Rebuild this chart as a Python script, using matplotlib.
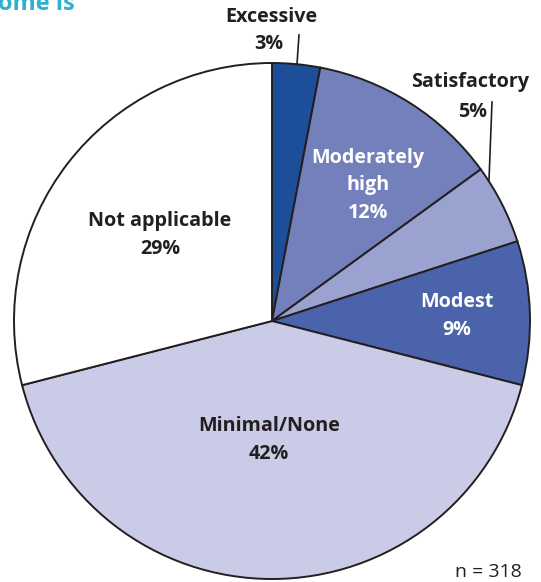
import matplotlib
matplotlib.use("Agg")
import matplotlib.pyplot as plt

# Share of responses by category, clockwise from 12 o'clock
categories = ["Excessive", "Moderately high", "Satisfactory", "Modest", "Minimal/None", "Not applicable"]
shares = [3, 12, 5, 9, 42, 29]
colors = ["#1d4e9a", "#7480bb", "#9aa2cf", "#4a63ab", "#cacbe6", "#ffffff"]
n_total = 318

W, H = 541, 582
fig = plt.figure(figsize=(W / 100, H / 100), dpi=100)
ax = fig.add_axes([0, 0, 1, 1])

cx, cy, r = 272, H - 321, 258
ax.pie(shares, colors=colors, startangle=90, counterclock=False,
       center=(cx, cy), radius=r, frame=True,
       wedgeprops=dict(edgecolor="#231f20", linewidth=1.4))
ax.set_xlim(0, W)
ax.set_ylim(0, H)
ax.set_aspect("equal")
ax.axis("off")

font = ["Open Sans", "DejaVu Sans"]
dark = "#231f20"
fs = 14.2
ls = 1.5

def y(p):
    return H - p

# Title fragment at top left
ax.text(-2, y(4), "ome is", color="#2eb0cf", fontsize=17, fontweight="bold",
        family=font, ha="left", va="center")

# Labels outside the pie with leader lines
ax.text(271, y(17), "Excessive", color=dark, fontsize=fs, fontweight="bold",
        family=font, ha="center", va="center")
ax.text(269, y(44), f"{shares[0]}%", color=dark, fontsize=fs, fontweight="bold",
        family=font, ha="center", va="center")
ax.plot([299, 297], [y(35), y(64)], color=dark, lw=1.2)

ax.text(470, y(82), "Satisfactory", color=dark, fontsize=fs, fontweight="bold",
        family=font, ha="center", va="center")
ax.text(487, y(112), f"{shares[2]}%", color=dark, fontsize=fs, fontweight="bold",
        family=font, ha="right", va="center")
ax.plot([492, 489], [y(102), y(180)], color=dark, lw=1.2)

# Labels inside the slices
ax.text(368, y(185), f"Moderately\nhigh\n{shares[1]}%", color="white", fontsize=fs,
        fontweight="bold", family=font, ha="center", va="center", linespacing=ls)
ax.text(457, y(316), f"Modest\n{shares[3]}%", color="white", fontsize=fs,
        fontweight="bold", family=font, ha="center", va="center", linespacing=ls)
ax.text(160, y(235), f"Not applicable\n{shares[5]}%", color=dark, fontsize=fs,
        fontweight="bold", family=font, ha="center", va="center", linespacing=ls)
ax.text(269, y(440), f"Minimal/None\n{shares[4]}%", color=dark, fontsize=fs,
        fontweight="bold", family=font, ha="center", va="center", linespacing=ls)

ax.text(488, y(572), f"n = {n_total}", color=dark, fontsize=14,
        family=font, ha="center", va="center")

fig.savefig("out.png", dpi=100)
